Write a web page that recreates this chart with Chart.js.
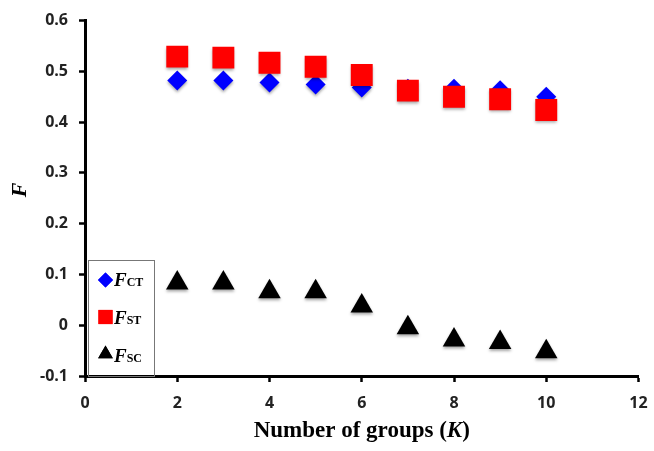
<!DOCTYPE html>
<html>
<head>
<meta charset="utf-8">
<title>F statistics by number of groups</title>
<script src="https://cdn.jsdelivr.net/npm/chart.js@4.4.1/dist/chart.umd.min.js"></script>
<style>
  html, body { margin: 0; padding: 0; background: #fff; }
  #wrap { position: relative; width: 654px; height: 451px; }
</style>
</head>
<body>
<div id="wrap"><canvas id="fChart" width="654" height="451"></canvas></div>
<script>
// data
const groups = [2, 3, 4, 5, 6, 7, 8, 9, 10];
const fCT = [0.482, 0.482, 0.478, 0.474, 0.468, 0.466, 0.466, 0.463, 0.450];
const fST = [0.529, 0.527, 0.517, 0.509, 0.493, 0.462, 0.450, 0.445, 0.424];
const fSC = [0.083, 0.083, 0.066, 0.066, 0.038, -0.005, -0.029, -0.034, -0.052];
const seriesSubs = ['CT', 'ST', 'SC'];
const xTicks = [0, 2, 4, 6, 8, 10, 12];
const yTicks = [-0.1, 0, 0.1, 0.2, 0.3, 0.4, 0.5, 0.6];

{
  const toPoints = (ys) => groups.map((g, i) => ({ x: g, y: ys[i] }));

  const tickFont = { family: '"Open Sans", sans-serif', size: 16, weight: '700' };
  const serif = '"Liberation Serif", "DejaVu Serif", serif';

  // legend box inside the plot, lower left
  const legendBox = {
    id: 'legendBox',
    afterDraw(chart) {
      const ctx = chart.ctx;
      const area = chart.chartArea;
      const left = area.left + 3;
      const top = area.bottom - 116;
      ctx.save();
      ctx.strokeStyle = '#777';
      ctx.lineWidth = 1;
      ctx.strokeRect(left + 0.5, top + 0.5, 66, 116);
      const rows = [
        { style: 'rectRot', r: 7.5, dy: 20, base: 26 },
        { style: 'rect', r: 10, dy: 57, base: 64 },
        { style: 'triangle', r: 8.5, dy: 94, base: 102 },
      ];
      chart.data.datasets.forEach((ds, i) => {
        const row = rows[i];
        ctx.fillStyle = ds.backgroundColor;
        ctx.strokeStyle = ds.borderColor;
        Chart.helpers.drawPoint(ctx, { pointStyle: row.style, radius: row.r, rotation: 0, borderWidth: 0 },
          left + 17.5, top + row.dy);
        ctx.fill();
        ctx.fillStyle = '#000';
        ctx.textBaseline = 'alphabetic';
        ctx.textAlign = 'left';
        ctx.font = 'italic bold 19px ' + serif;
        ctx.fillText('F', left + 26, top + row.base);
        const w = ctx.measureText('F').width;
        ctx.font = 'bold 12px ' + serif;
        ctx.fillText(seriesSubs[i], left + 26 + w, top + row.base);
      });
      ctx.restore();
    },
  };

  // axis titles with mixed italic
  const axisTitles = {
    id: 'axisTitles',
    afterDraw(chart) {
      const ctx = chart.ctx;
      const area = chart.chartArea;
      ctx.save();
      ctx.fillStyle = '#000';
      ctx.textBaseline = 'alphabetic';
      const parts = [
        ['bold 23px ' + serif, 'Number of groups ('],
        ['italic bold 23px ' + serif, 'K'],
        ['bold 23px ' + serif, ')'],
      ];
      let total = 0;
      parts.forEach(([f, t]) => { ctx.font = f; total += ctx.measureText(t).width; });
      let x = (area.left + area.right) / 2 - total / 2;
      parts.forEach(([f, t]) => {
        ctx.font = f;
        ctx.fillText(t, x, 437);
        x += ctx.measureText(t).width;
      });
      ctx.translate(26, 190);
      ctx.rotate(-Math.PI / 2);
      ctx.font = 'italic bold 22px ' + serif;
      ctx.textAlign = 'center';
      ctx.fillText('F', 0, 0);
      ctx.restore();
    },
  };

  // soft drop shadow under the markers
  const markerShadow = {
    id: 'markerShadow',
    beforeDatasetsDraw(chart) {
      const ctx = chart.ctx;
      ctx.save();
      ctx.shadowColor = 'rgba(0,0,0,0.35)';
      ctx.shadowBlur = 3;
      ctx.shadowOffsetY = 2;
    },
    afterDatasetsDraw(chart) {
      chart.ctx.restore();
    },
  };

  const ctx = document.getElementById('fChart').getContext('2d');
  const chart = new Chart(ctx, {
    type: 'scatter',
    data: {
      datasets: [
        {
          label: 'FCT',
          data: toPoints(fCT),
          pointStyle: 'rectRot',
          pointRadius: 10,
          backgroundColor: '#0000ff',
          borderColor: '#0000ff',
          borderWidth: 0,
          order: 1,
        },
        {
          label: 'FST',
          data: toPoints(fST),
          pointStyle: 'rect',
          pointRadius: 15.5,
          backgroundColor: '#ff0000',
          borderColor: '#ff0000',
          borderWidth: 0,
          order: 0,
        },
        {
          label: 'FSC',
          data: toPoints(fSC),
          pointStyle: 'triangle',
          pointRadius: 13,
          backgroundColor: '#000000',
          borderColor: '#000000',
          borderWidth: 0,
          order: 2,
        },
      ],
    },
    options: {
      responsive: false,
      animation: false,
      events: [],
      layout: { padding: { left: 0, right: 0.5, top: 19.5, bottom: 0 } },
      plugins: {
        legend: { display: false },
        tooltip: { enabled: false },
      },
      scales: {
        x: {
          type: 'linear',
          min: xTicks[0],
          max: xTicks[xTicks.length - 1],
          afterFit: (scale) => { scale.height = 75; scale.paddingRight = 0; scale.paddingLeft = 0; },
          afterBuildTicks: (scale) => { scale.ticks = xTicks.map((v) => ({ value: v })); },
          ticks: { font: tickFont, color: '#222', padding: 12, maxRotation: 0 },
          grid: { drawOnChartArea: false, tickLength: 6, tickColor: '#000', tickWidth: 2.5 },
          border: { color: '#000', width: 3 },
        },
        y: {
          min: yTicks[0],
          max: yTicks[yTicks.length - 1],
          afterFit: (scale) => { scale.width = 85; },
          afterBuildTicks: (scale) => { scale.ticks = yTicks.map((v) => ({ value: v })); },
          ticks: {
            font: tickFont,
            color: '#222',
            padding: 11,
            callback: (v) => (Math.abs(v) < 1e-9 ? '0' : Number(v).toFixed(1)),
          },
          grid: { drawOnChartArea: false, tickLength: 6, tickColor: '#000', tickWidth: 2.5 },
          border: { color: '#000', width: 3 },
        },
      },
    },
    plugins: [markerShadow, legendBox, axisTitles],
  });
}
</script>
</body>
</html>
